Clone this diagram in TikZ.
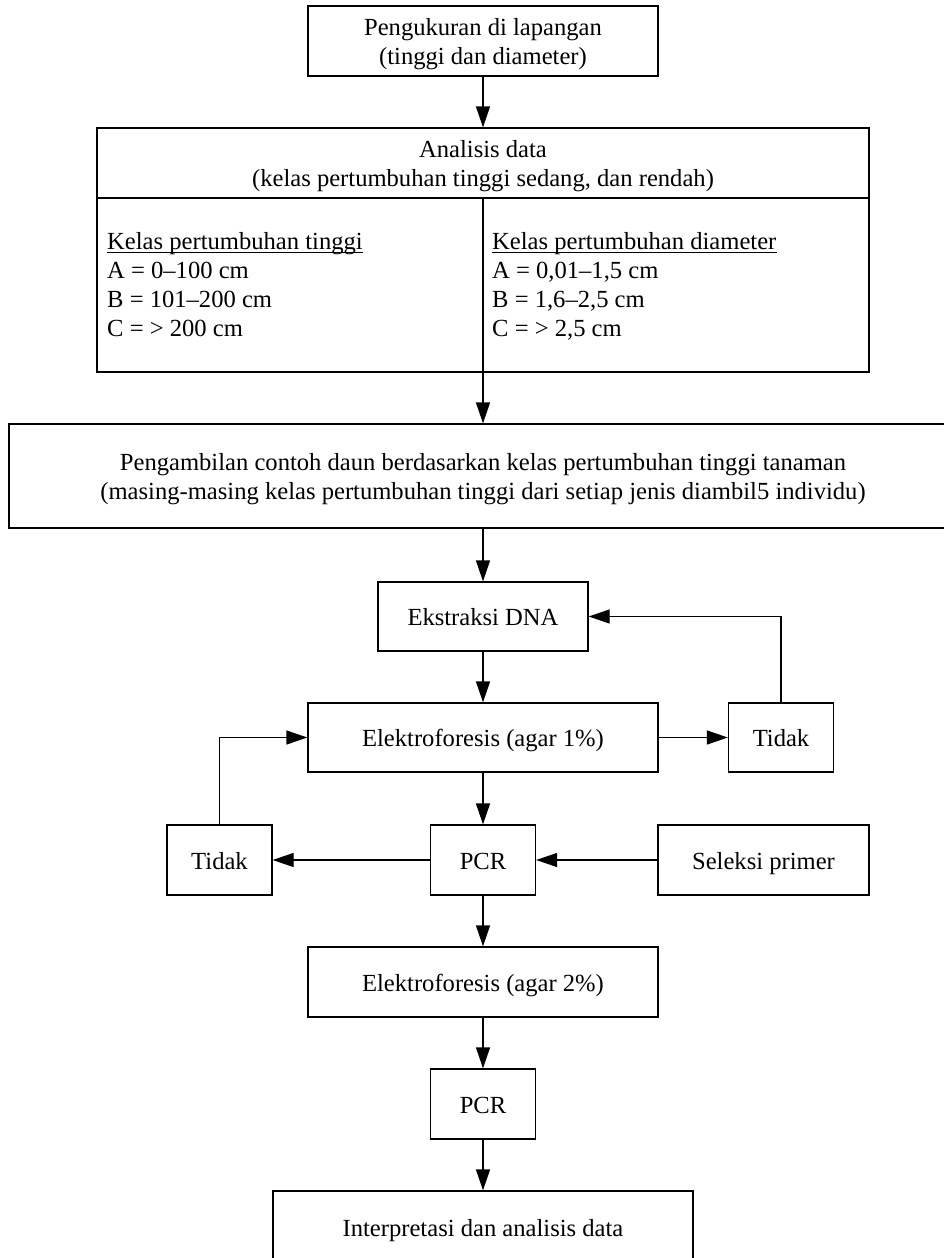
\documentclass[tikz,border=0pt]{standalone}
\usepackage{fontspec}
\setmainfont{Liberation Serif}
\usetikzlibrary{arrows.meta}
\newcommand\tst{\rule[-8.7pt]{0pt}{36pt}}
\begin{document}
\begin{tikzpicture}[x=1pt,y=-1pt,
  box/.style={draw,line width=1.3pt,inner sep=0pt,align=center,font=\fontsize{24.6}{29}\selectfont},
  arr/.style={line width=1.3pt,-{Triangle[length=21pt,width=14pt]}},
  ln/.style={line width=1.3pt},
  uln/.style={line width=1pt},
  txt/.style={inner sep=0pt,anchor=base west,font=\fontsize{24.6}{29}\selectfont}]
\useasboundingbox (0,0) rectangle (944,1258);
% boxes
\node[box,minimum width=350pt,minimum height=70pt] (top) at (483,41) {\tst Pengukuran di lapangan\\\strut(tinggi dan diameter)};
\node[box,minimum width=772pt,minimum height=70pt] (anahead) at (483,163) {\tst Analisis data\\\strut(kelas pertumbuhan tinggi sedang, dan rendah)};
\node[box,minimum width=772pt,minimum height=174pt] (anabody) at (483,285) {};
\node[box,minimum width=948pt,minimum height=104pt] (sample) at (483,476) {\tst Pengambilan contoh daun berdasarkan kelas pertumbuhan tinggi tanaman\\\strut(masing-masing kelas pertumbuhan tinggi dari setiap jenis diambil5 individu)};
\node[box,minimum width=210pt,minimum height=69pt] (ekstr) at (483,616.5) {\tst Ekstraksi DNA};
\node[box,minimum width=350pt,minimum height=69pt] (elek1) at (483,737.5) {\tst Elektroforesis (agar 1\%)};
\node[box,minimum width=105pt,minimum height=69pt] (tidakR) at (781,737.5) {\tst Tidak};
\node[box,minimum width=105pt,minimum height=70pt] (tidakL) at (219.5,860) {\tst Tidak};
\node[box,minimum width=105pt,minimum height=70pt] (pcr1) at (483,860) {\tst PCR};
\node[box,minimum width=211pt,minimum height=70pt] (seleksi) at (763.5,860) {\tst Seleksi primer};
\node[box,minimum width=350pt,minimum height=70pt] (elek2) at (483,982) {\tst Elektroforesis (agar 2\%)};
\node[box,minimum width=105pt,minimum height=70pt] (pcr2) at (483,1104) {\tst PCR};
\node[box,minimum width=420pt,minimum height=72pt] (interp) at (483,1227) {\tst Interpretasi dan analisis data};
% column texts
\node[txt] (l1) at (107,249) {Kelas pertumbuhan tinggi};
\node[txt] (l2) at (107,278) {A = 0–100 cm};
\node[txt] (l3) at (107,307) {B = 101–200 cm};
\node[txt] (l4) at (107,336) {C = > 200 cm};
\node[txt] (r1) at (492,249) {Kelas pertumbuhan diameter};
\node[txt] (r2) at (492,278) {A = 0,01–1,5 cm};
\node[txt] (r3) at (492,307) {B = 1,6–2,5 cm};
\node[txt] (r4) at (492,336) {C = > 2,5 cm};
\draw[uln] ([yshift=-3pt]l1.base west) -- ([yshift=-3pt]l1.base east);
\draw[uln] ([yshift=-3pt]r1.base west) -- ([yshift=-3pt]r1.base east);
% connectors
\draw[arr] (top) -- (anahead);
\draw[ln] (anahead.south) -- (anabody.south);
\draw[arr] (anabody.south) -- (sample.north);
\draw[arr] (sample) -- (ekstr);
\draw[arr] (ekstr) -- (elek1);
\draw[arr] (elek1) -- (tidakR);
\draw[arr] (tidakR.north) |- (ekstr.east);
\draw[arr] (tidakL.north) |- (elek1.west);
\draw[arr] (elek1) -- (pcr1);
\draw[arr] (pcr1) -- (tidakL);
\draw[arr] (seleksi) -- (pcr1);
\draw[arr] (pcr1) -- (elek2);
\draw[arr] (elek2) -- (pcr2);
\draw[arr] (pcr2) -- (interp);
\end{tikzpicture}
\end{document}
